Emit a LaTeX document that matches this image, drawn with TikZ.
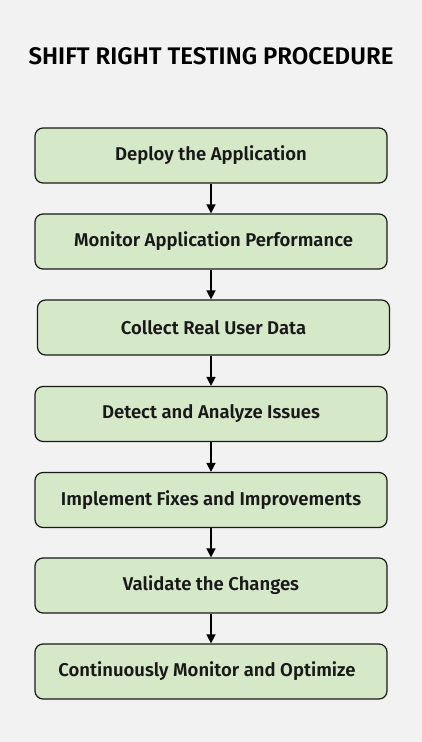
\documentclass[tikz,border=0pt]{standalone}
\usepackage{fontspec}
\setmainfont{Fira Sans}[BoldFont={Fira Sans SemiBold}]
\usetikzlibrary{arrows.meta}
\definecolor{bg}{HTML}{F2F2F2}
\definecolor{boxfill}{HTML}{D5E8C8}
\definecolor{boxline}{HTML}{1A1A1A}
\tikzset{
  stepbox/.style={draw=boxline, line width=1.2pt, fill=boxfill, rounded corners=8pt,
    minimum width=352pt, minimum height=55pt, inner sep=0pt,
    font=\bfseries\fontsize{18.5}{22}\selectfont, text=black!90},
  flow/.style={draw=black, line width=1.4pt, -{Triangle[width=9pt,length=9pt]}}
}
\begin{document}
\begin{tikzpicture}[x=1pt,y=-1pt]
\fill[bg] (0,0) rectangle (422,742);
\useasboundingbox (0,0) rectangle (422,742);
\node[font=\bfseries\fontsize{24}{28}\selectfont] (title) at (211,56) {SHIFT RIGHT TESTING PROCEDURE};
\node[stepbox] (s1) at (211,155.5) {Deploy the Application};
\node[stepbox] (s2) at (211,241.5) {\hspace*{5pt}Monitor Application Performance};
\node[stepbox] (s3) at (213.5,327.5) {Collect Real User Data};
\node[stepbox] (s4) at (211,414) {Detect and Analyze Issues};
\node[stepbox] (s5) at (211,500) {Implement Fixes and Improvements};
\node[stepbox] (s6) at (211,585.5) {Validate the Changes};
\node[stepbox] (s7) at (211,671.5) {Continuously Monitor and Optimize\hspace*{8pt}};
\draw[flow] (s1.south) -- (s2.north);
\draw[flow] (s2.south) -- (s2.south |- s3.north);
\draw[flow] (s2.south |- s3.south) -- (s4.north);
\draw[flow] (s4.south) -- (s5.north);
\draw[flow] (s5.south) -- (s6.north);
\draw[flow] (s6.south) -- (s7.north);
\end{tikzpicture}
\end{document}
